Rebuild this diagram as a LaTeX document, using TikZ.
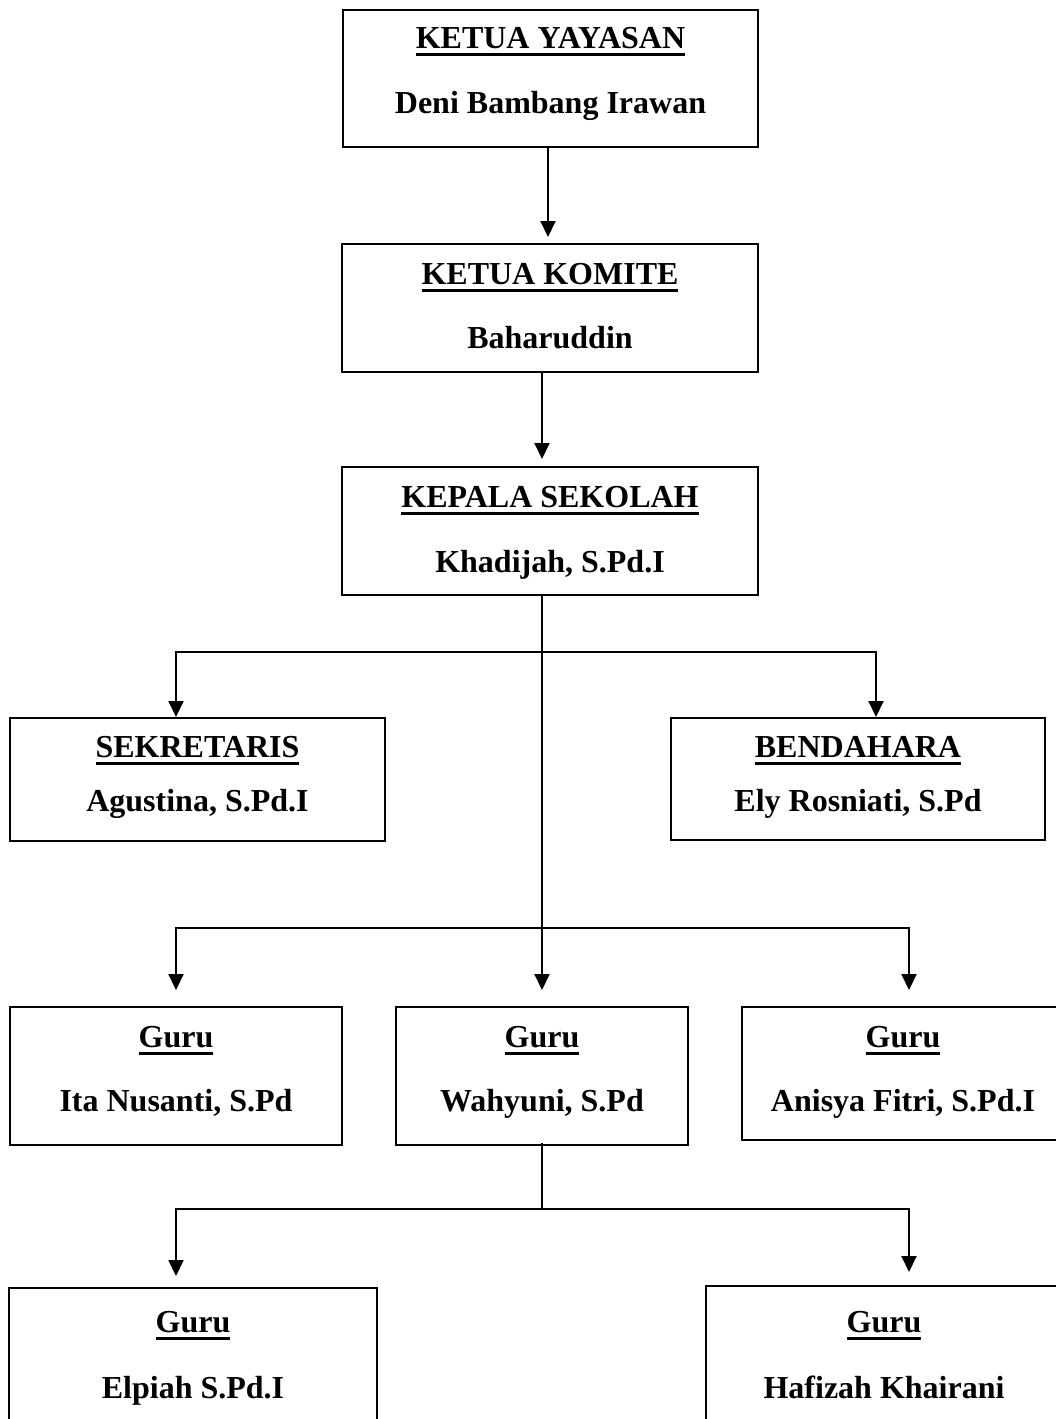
\documentclass[tikz,border=0pt]{standalone}
\usepackage{fontspec}
\setmainfont{Liberation Serif}
\usetikzlibrary{arrows.meta}
\newcommand\myul[1]{\setbox0\hbox{#1}\rlap{\rule[-7.5pt]{\wd0}{3pt}}\box0}
\tikzset{
  orgbox/.style={draw, line width=2pt, rectangle, inner sep=0pt},
  txt/.style={anchor=base, inner sep=0pt, font=\fontsize{32}{38}\selectfont\bfseries},
  conn/.style={line width=2pt},
  arr/.style={line width=2pt, -{Triangle[length=16pt,width=15pt]}}
}
\begin{document}
\begin{tikzpicture}[x=1pt,y=-1pt]
\useasboundingbox (0,0) rectangle (1056,1419);
\clip (0,0) rectangle (1056,1419);
\fill[white] (0,0) rectangle (1056,1419);

% boxes
\node[orgbox, minimum width=415pt, minimum height=137pt] (yayasan) at (550.5,78.5) {};
\node[orgbox, minimum width=416pt, minimum height=128pt] (komite) at (550,308) {};
\node[orgbox, minimum width=416pt, minimum height=128pt] (kepala) at (550,531) {};
\node[orgbox, minimum width=375pt, minimum height=123pt] (sekretaris) at (197.5,779.5) {};
\node[orgbox, minimum width=374pt, minimum height=122pt] (bendahara) at (858,779) {};
\node[orgbox, minimum width=332pt, minimum height=138pt] (ita) at (176,1076) {};
\node[orgbox, minimum width=292pt, minimum height=138pt] (wahyuni) at (542,1076) {};
\node[orgbox, minimum width=322pt, minimum height=133pt] (anisya) at (903,1073.5) {};
\node[orgbox, minimum width=368pt, minimum height=152pt] (elpiah) at (193,1364) {};
\node[orgbox, minimum width=356pt, minimum height=154pt] (hafizah) at (884,1363) {};

% texts
\node[txt] (yayasanT) at (550.5,48) {\myul{KETUA YAYASAN}};
\node[txt] (yayasanN) at (550.5,113) {Deni Bambang Irawan};
\node[txt] (komiteT) at (550,284) {\myul{KETUA KOMITE}};
\node[txt] (komiteN) at (550,348) {Baharuddin};
\node[txt] (kepalaT) at (550,507) {\myul{KEPALA SEKOLAH}};
\node[txt] (kepalaN) at (550,572) {Khadijah, S.Pd.I};
\node[txt] (sekretarisT) at (197.5,757) {\myul{SEKRETARIS}};
\node[txt] (sekretarisN) at (197.5,811) {Agustina, S.Pd.I};
\node[txt] (bendaharaT) at (858,757) {\myul{BENDAHARA}};
\node[txt] (bendaharaN) at (858,811) {Ely Rosniati, S.Pd};
\node[txt] (itaT) at (176,1047) {\myul{Guru}};
\node[txt] (itaN) at (176,1111) {Ita Nusanti, S.Pd};
\node[txt] (wahyuniT) at (542,1047) {\myul{Guru}};
\node[txt] (wahyuniN) at (542,1111) {Wahyuni, S.Pd};
\node[txt] (anisyaT) at (903,1047) {\myul{Guru}};
\node[txt] (anisyaN) at (903,1111) {Anisya Fitri, S.Pd.I};
\node[txt] (elpiahT) at (193,1332) {\myul{Guru}};
\node[txt] (elpiahN) at (193,1398) {Elpiah S.Pd.I};
\node[txt] (hafizahT) at (884,1332) {\myul{Guru}};
\node[txt] (hafizahN) at (884,1398) {Hafizah Khairani};

% junctions
\coordinate (j1) at (542,652);
\coordinate (j2) at (542,928);
\coordinate (j3) at (542,1209);

% connectors
\draw[arr, shorten >=6pt] ([xshift=-2.5pt]yayasan.south) -- ([xshift=-2pt]komite.north);
\draw[arr, shorten >=7pt] ([xshift=-8pt]komite.south) -- ([xshift=-8pt]kepala.north);
\draw[arr, shorten >=16pt] ([xshift=-8pt]kepala.south) -- (wahyuni.north);
\draw[arr] (j1) -| ([xshift=-21.5pt]sekretaris.north);
\draw[arr] (j1) -| ([xshift=18pt]bendahara.north);
\draw[arr, shorten >=16pt] (j2) -| (ita.north);
\draw[arr, shorten >=16pt] (j2) -| ([xshift=6pt]anisya.north);
\draw[conn] ([yshift=3pt]wahyuni.south) -- (j3);
\draw[arr, shorten >=11pt] (j3) -| ([xshift=-17pt]elpiah.north);
\draw[arr, shorten >=13pt] (j3) -| ([xshift=25pt]hafizah.north);
\end{tikzpicture}
\end{document}
